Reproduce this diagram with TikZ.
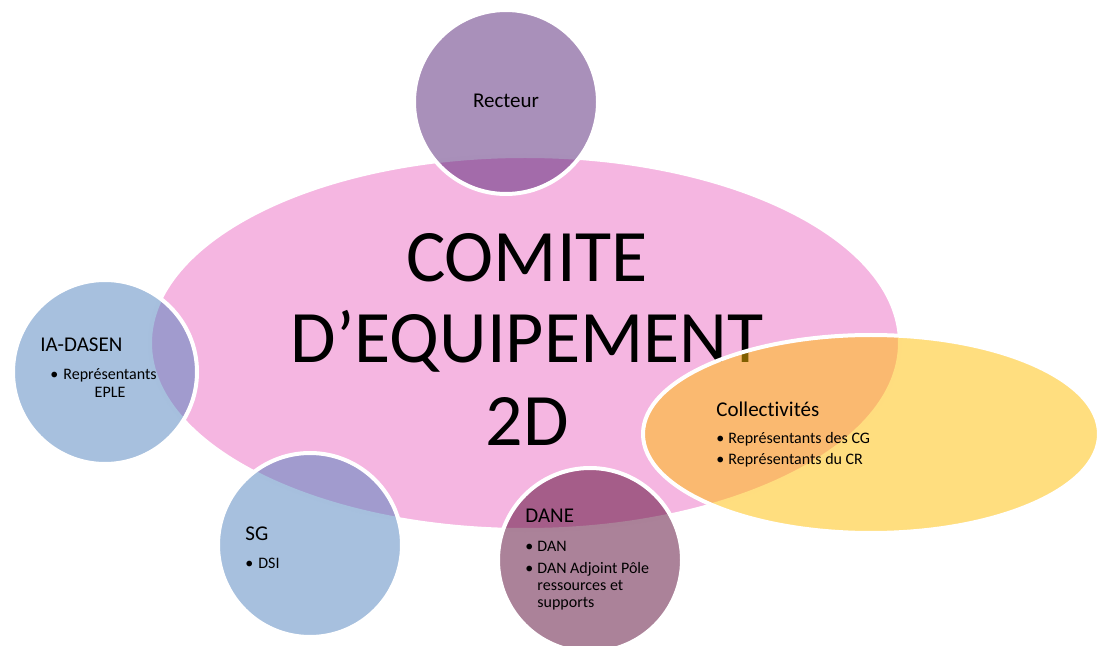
\documentclass[tikz,border=0pt]{standalone}
\usepackage{fontspec}
\setmainfont{Carlito}[Ligatures=NoCommon]
\usetikzlibrary{shapes.geometric}
\definecolor{cpink}{RGB}{245,182,225}
\definecolor{crect}{RGB}{83,33,117}
\definecolor{cblue}{RGB}{79,129,189}
\definecolor{cdane}{RGB}{87,5,51}
\definecolor{cyel}{RGB}{255,189,0}
\tikzset{
  bubble/.style={circle, inner sep=0pt, minimum size=92pt, draw=white, line width=2pt, fill opacity=0.5, draw opacity=1},
  oval/.style={ellipse, inner sep=0pt, draw=white, line width=2pt, fill opacity=0.5, draw opacity=1},
  ttl/.style={inner sep=0pt, anchor=base west, font=\fontsize{10.5}{12.6}\selectfont},
  itm/.style={inner sep=0pt, anchor=base west, font=\fontsize{8}{9.6}\selectfont},
  big/.style={inner sep=0pt, anchor=base, font=\fontsize{37}{41}\selectfont}
}
\begin{document}
\begin{tikzpicture}[x=0.5pt,y=-0.5pt]
\useasboundingbox (0,0) rectangle (1103,646);
% main ellipse
\node[ellipse, inner sep=0pt, fill=cpink, draw=white, line width=2pt, minimum width=375pt, minimum height=187pt] (main) at (525,343) {};
\node[big] (t1) at (527,282) {COMITE};
\node[big] (t2) at (527,363) {D’EQUIPEMENT};
\node[big] (t3) at (527,445) {2D};
% Recteur
\node[bubble, fill=crect] (rect) at (506,102) {};
\node[inner sep=0pt, anchor=base, font=\fontsize{10.5}{12.6}\selectfont] (recttxt) at (506,108) {Recteur};
% IA-DASEN
\node[bubble, fill=cblue] (ia) at (105,372) {};
\node[ttl] (iatitle) at (40,352) {IA-DASEN};
\node[itm] (iab) at (50,380) {•};
\node[itm] (iarep) at (63,380) {Représentants};
\node[inner sep=0pt, anchor=base, font=\fontsize{8}{9.6}\selectfont] (iaeple) at ([yshift=-9pt]iarep.base) {EPLE};
% SG
\node[bubble, fill=cblue] (sg) at (310,545) {};
\node[ttl] (sgtitle) at (245,540) {SG};
\node[itm] (sgb) at (245,568) {•};
\node[itm] (sgdsi) at (258,568) {DSI};
% DANE
\node[bubble, fill=cdane] (dane) at (590,560) {};
\node[ttl] (danetitle) at (525,523) {DANE};
\node[itm] (daneb1) at (525,552) {•};
\node[itm] (danei1) at (537,552) {DAN};
\node[itm] (daneb2) at (525,573) {•};
\node[itm] (danei2) at (537,573) {DAN Adjoint Pôle};
\node[itm] (danei3) at (537,590) {ressources et};
\node[itm] (danei4) at (537,607) {supports};
% Collectivites
\node[oval, fill=cyel, minimum width=228pt, minimum height=99pt] (coll) at (871,434) {};
\node[ttl] (colltitle) at (716,417) {Collectivités};
\node[itm] (collb1) at (716,444) {•};
\node[itm] (colli1) at (728,444) {Représentants des CG};
\node[itm] (collb2) at (716,465) {•};
\node[itm] (colli2) at (728,465) {Représentants du CR};
\end{tikzpicture}
\end{document}
